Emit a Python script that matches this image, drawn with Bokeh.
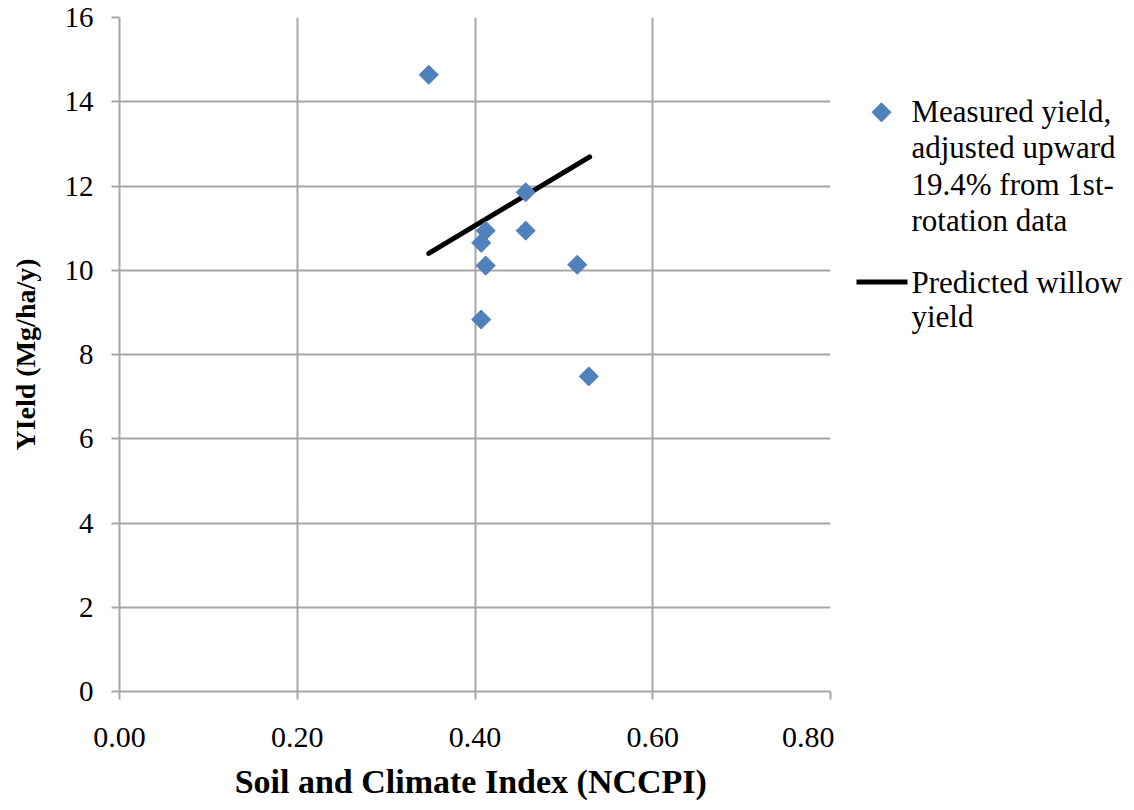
import math
from bokeh.plotting import figure
from bokeh.layouts import row
from bokeh.models import (ColumnDataSource, Range1d, FixedTicker, NumeralTickFormatter)
from bokeh.core.properties import value
from bokeh.embed import file_html
from bokeh.resources import INLINE

# ---------------- data ----------------
nccpi_measured = [0.348, 0.457, 0.412, 0.407, 0.412, 0.457, 0.515, 0.407, 0.528]
yield_measured = [14.64, 11.85, 10.94, 10.65, 10.11, 10.94, 10.13, 8.83, 7.48]

nccpi_pred = [0.348, 0.529]
yield_pred = [10.40, 12.69]

x_ticks = [0.0, 0.2, 0.4, 0.6, 0.8]
y_ticks = [0, 2, 4, 6, 8, 10, 12, 14, 16]

legend_measured = ["Measured yield,", "adjusted upward", "19.4% from 1st-", "rotation data"]
legend_pred = ["Predicted willow", "yield"]

FONT = "Liberation Serif"
BLUE = "#4F81BD"
GRID = "#a6a6a6"

# ---------------- main chart ----------------
p = figure(width=834, height=802, output_backend="svg", toolbar_location=None,
           x_range=(0, 0.8), y_range=(0, 16),
           min_border_left=119, min_border_right=4,
           min_border_top=17, min_border_bottom=110)
p.outline_line_color = None

src_m = ColumnDataSource(dict(x=nccpi_measured, y=yield_measured))
src_p = ColumnDataSource(dict(x=nccpi_pred, y=yield_pred))

p.line("x", "y", source=src_p, line_color="black", line_width=5, line_cap="round")
p.scatter("x", "y", source=src_m, marker="square", angle=math.pi / 4,
          size=13.5, fill_color=BLUE, line_color=BLUE)

p.xaxis.ticker = FixedTicker(ticks=x_ticks)
p.yaxis.ticker = FixedTicker(ticks=y_ticks)
p.xaxis.formatter = NumeralTickFormatter(format="0.00")
for ax in (p.xaxis[0], p.yaxis[0]):
    ax.axis_line_color = GRID
    ax.axis_line_width = 2
    ax.major_tick_line_color = GRID
    ax.major_tick_line_width = 2
    ax.major_tick_out = 8
    ax.major_tick_in = 0
    ax.minor_tick_line_color = None
    ax.major_label_text_font = FONT
    ax.major_label_text_color = "black"
    ax.axis_label_text_font = FONT
    ax.axis_label_text_font_style = "bold"
    ax.axis_label_text_color = "black"

p.xaxis.major_label_text_font_size = "30px"
p.yaxis.major_label_text_font_size = "29px"
p.xaxis.major_label_standoff = 28
p.yaxis.major_label_standoff = 18
p.xaxis.axis_label = "Soil  and Climate Index (NCCPI)"
p.yaxis.axis_label = "YIeld (Mg/ha/y)"
p.xaxis.axis_label_text_font_size = "34px"
p.yaxis.axis_label_text_font_size = "28px"
p.xaxis.axis_label_standoff = 13
p.yaxis.axis_label_standoff = 21

p.xgrid.ticker = FixedTicker(ticks=x_ticks)
p.ygrid.ticker = FixedTicker(ticks=y_ticks)
p.xgrid.grid_line_color = GRID
p.ygrid.grid_line_color = GRID
p.xgrid.grid_line_width = 2
p.ygrid.grid_line_width = 2

# ---------------- legend panel (frame aligned with main frame: page y 17..692) ----------------
lg = figure(width=292, height=802, output_backend="svg", toolbar_location=None,
            x_range=Range1d(834, 1126), y_range=Range1d(692, 17),
            x_axis_location=None, y_axis_location=None,
            min_border_left=0, min_border_right=0,
            min_border_top=17, min_border_bottom=110,
            outline_line_color=None)
lg.grid.visible = False

# swatches
lg.scatter([881], [112], marker="square", angle=math.pi / 4, size=13.5,
           fill_color=BLUE, line_color=BLUE)
lg.line([856, 907], [282, 282], line_color="black", line_width=5, line_cap="butt")

# label lines
text_x = 911
lg.text(x=[text_x] * len(legend_measured), y=[111, 147, 184, 220],
        text=legend_measured, text_font=value(FONT), text_font_size="31px",
        text_baseline="alphabetic", text_color="black")
lg.text(x=[text_x] * len(legend_pred), y=[282, 316],
        text=legend_pred, text_font=value(FONT), text_font_size="31px",
        text_baseline="alphabetic", text_color="black")

layout = row(p, lg, spacing=0)
open("out.html", "w").write(file_html(layout, INLINE))
